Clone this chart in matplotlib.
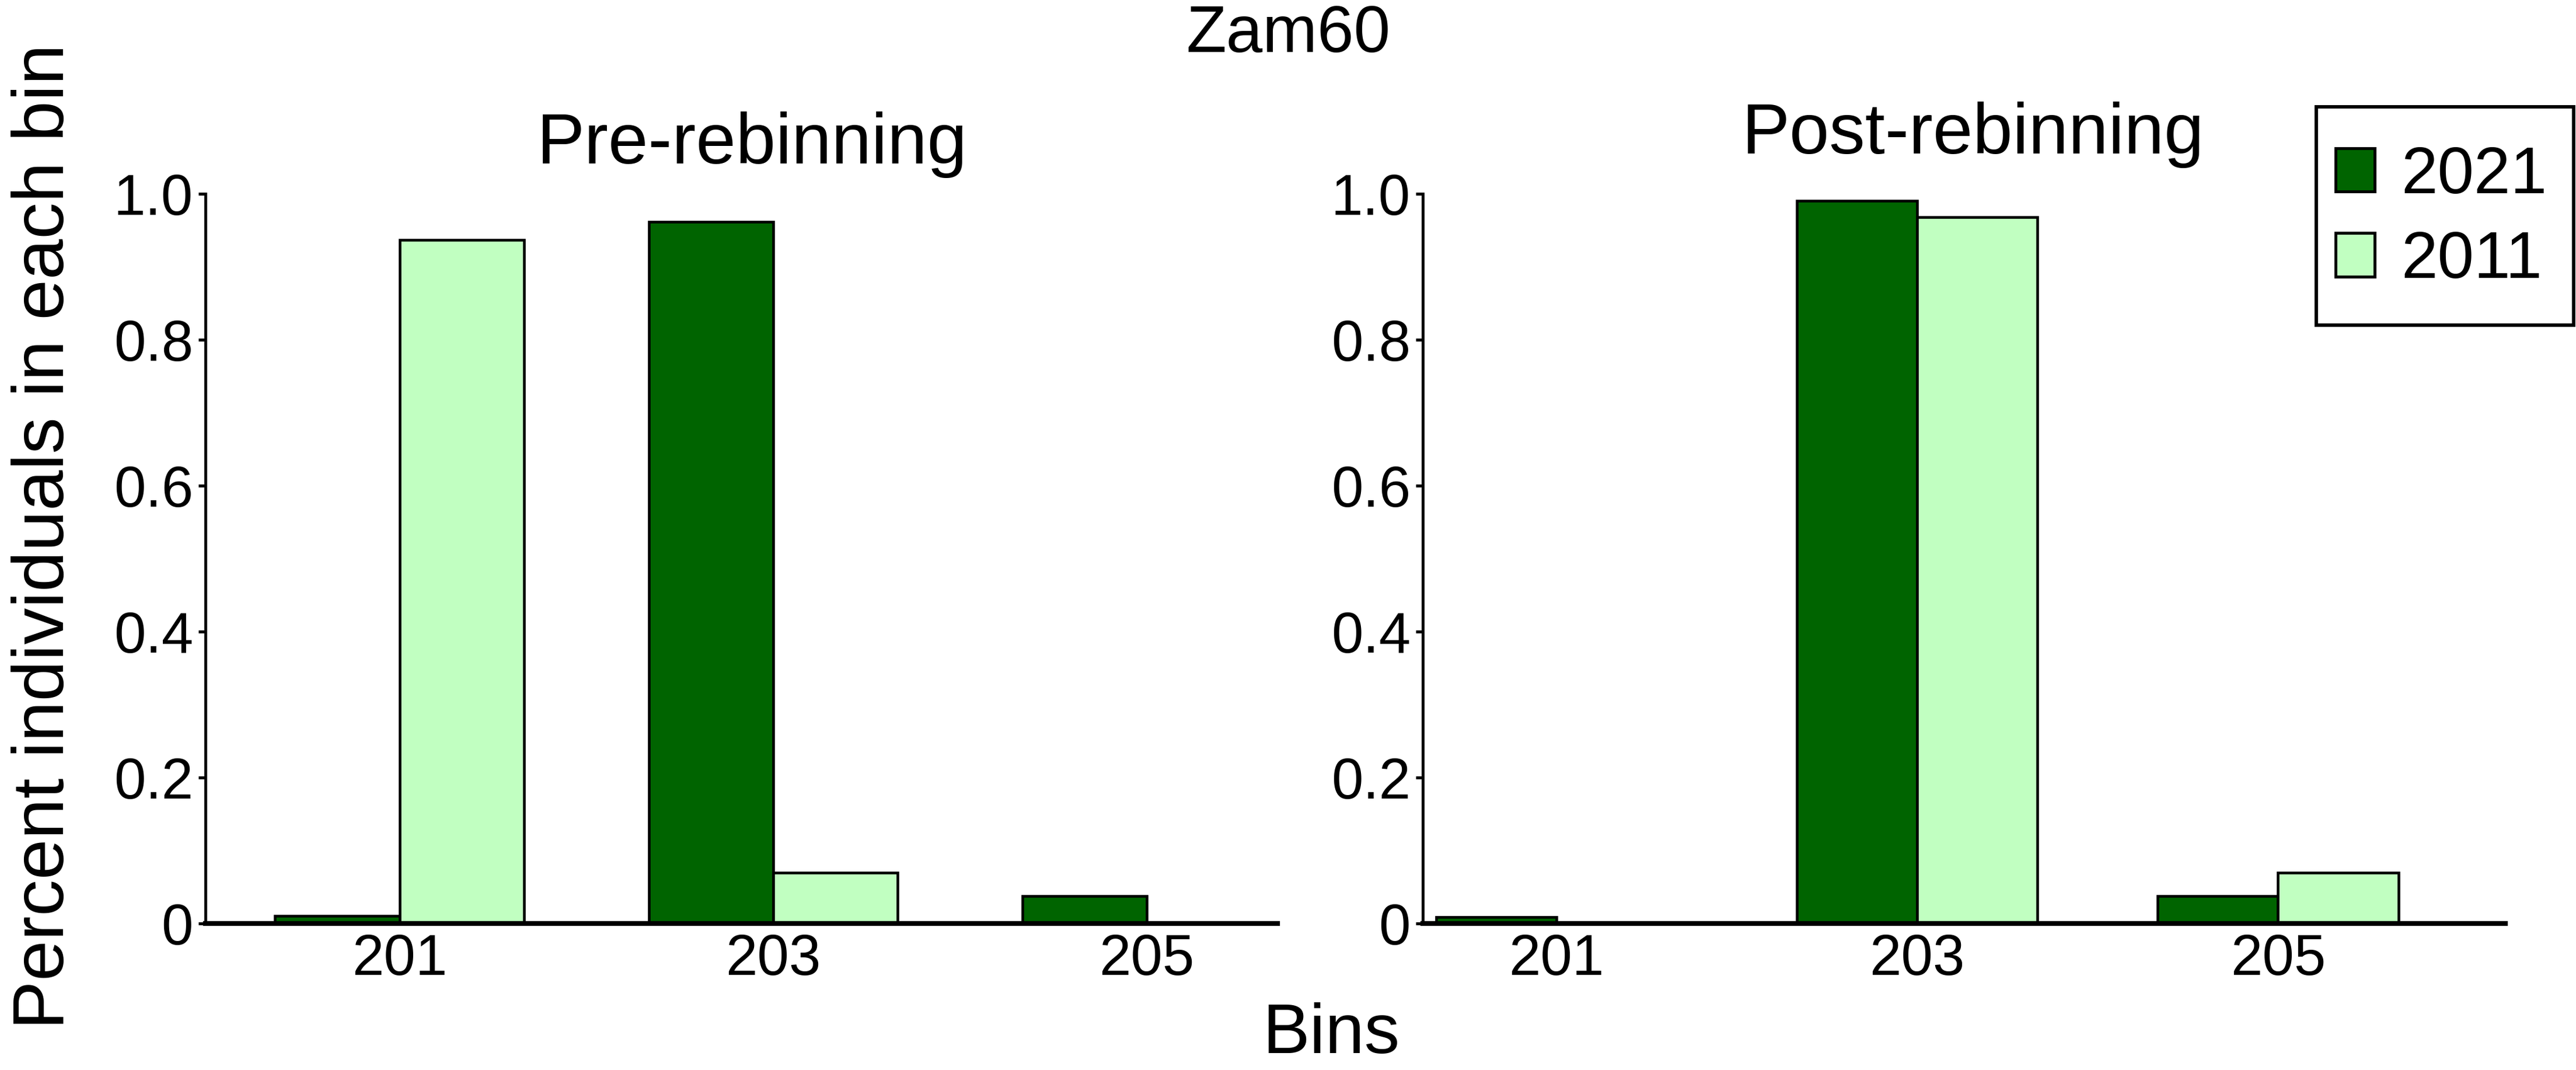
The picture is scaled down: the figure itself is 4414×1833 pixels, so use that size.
import numpy as np
import matplotlib
matplotlib.use("Agg")
import matplotlib.pyplot as plt
from matplotlib.patches import Patch, Rectangle

plt.rcParams['font.family'] = ['Liberation Sans', 'DejaVu Sans']

bins = ['201', '203', '205']
years = ['2021', '2011']
colors = ['#006400', '#C1FFC1']

pre_2021 = [0.011, 0.962, 0.038]
pre_2011 = [0.937, 0.070, 0.002]
post_2021 = [0.009, 0.991, 0.038]
post_2011 = [0.0, 0.968, 0.070]

fig = plt.figure(figsize=(4414 / 300, 1833 / 300), dpi=300)
ax1 = fig.add_axes([0.0797, 0.1367, 0.4163, 0.682])
ax2 = fig.add_axes([0.5523, 0.1367, 0.4203, 0.682])

x = np.arange(len(bins))
w = 1 / 3

def draw(ax, a, b, xlim):
    ax.bar(x - w / 2, a, w, color=colors[0], edgecolor='black', linewidth=1.1)
    ax.bar(x + w / 2, b, w, color=colors[1], edgecolor='black', linewidth=1.1)
    ax.set_xlim(*xlim)
    ax.set_ylim(0, 1.0)
    ax.set_xticks(x)
    ax.set_xticklabels(bins, fontsize=23.5)
    ax.set_yticks([0, 0.2, 0.4, 0.6, 0.8, 1.0])
    ax.set_yticklabels(['0', '0.2', '0.4', '0.6', '0.8', '1.0'], fontsize=23.5)
    ax.tick_params(axis='x', length=0, pad=4)
    ax.tick_params(axis='y', length=3, width=1.2, pad=2)
    for s in ['top', 'right']:
        ax.spines[s].set_visible(False)
    ax.spines['left'].set_linewidth(1.2)
    ax.spines['bottom'].set_linewidth(2)

draw(ax1, pre_2021, pre_2011, (-0.52, 2.35))
draw(ax2, post_2021, post_2011, (-0.37, 2.63))

fig.text(0.5, 0.9514, 'Zam60', ha='center', va='baseline', fontsize=27)
fig.text(0.292, 0.8472, 'Pre-rebinning', ha='center', va='baseline', fontsize=29.5)
fig.text(0.766, 0.8565, 'Post-rebinning', ha='center', va='baseline', fontsize=29.5)
fig.text(0.0247, 0.4985, 'Percent individuals in each bin', ha='center', va='baseline',
         rotation=90, rotation_mode='anchor', fontsize=30)
fig.text(0.5166, 0.002, 'Bins', ha='center', va='bottom', fontsize=29)

# legend box
fig.add_artist(Rectangle((0.8992, 0.6959), 0.0998, 0.2043, transform=fig.transFigure,
                         fill=False, edgecolor='black', linewidth=1.4))
handles = [Patch(facecolor=c, edgecolor='black', linewidth=1.2) for c in colors]
fig.legend(handles, years, loc='center', bbox_to_anchor=(0.9477, 0.7957),
           fontsize=27, frameon=False, borderpad=0,
           handlelength=0.6, handleheight=0.64, handletextpad=0.4,
           labelspacing=0.35)

fig.savefig('out.png', dpi=300)
